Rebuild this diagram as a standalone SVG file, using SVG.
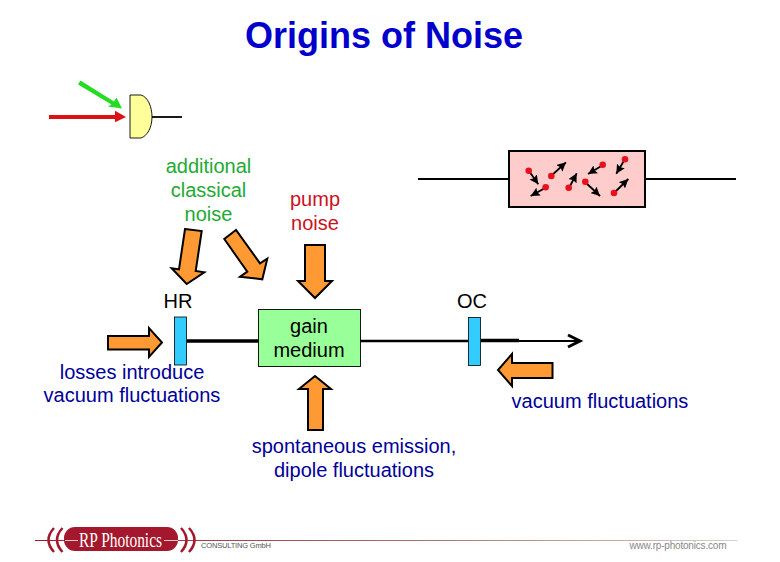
<svg xmlns="http://www.w3.org/2000/svg" width="780" height="562" viewBox="0 0 780 562">
<style>
text{font-family:"Liberation Sans",Arial,sans-serif;font-size:20px;text-anchor:middle}
.b{fill:#000099}.g{fill:#22aa33}.k{fill:#000}.r{fill:#cc1122}
.o{fill:#ff9933;stroke:#000;stroke-width:2}
.m{fill:#33ccff;stroke:#000;stroke-width:.8}
.d{fill:#e8101c}
.a{stroke:#000;stroke-width:1.8;fill:none;marker-end:url(#ah)}
</style>
<defs>
<marker id="ah" markerUnits="userSpaceOnUse" markerWidth="10" markerHeight="9" refX="9" refY="4.500" orient="auto"><path d="M0 0L9 4.500L0 9L1.500 4.500Z" fill="#000"/></marker>
<linearGradient id="fade" gradientUnits="userSpaceOnUse" x1="35" y1="0" x2="737" y2="0"><stop offset="0" stop-color="#a3182c"/><stop offset=".55" stop-color="#a8706f"/><stop offset="1" stop-color="#d8d0c8"/></linearGradient>
</defs>
<rect width="780" height="562" fill="#fff"/>
<text x="384" y="48" style="font-size:36px;font-weight:bold;fill:#0000cc">Origins of Noise</text>
<g id="connectors" fill="none" stroke="#000">
<path d="M152 117H182" stroke-width="1.8"/>
<path d="M418 179H508M645 179H736" stroke-width="2"/>
<path d="M187 341H259" stroke-width="3.500"/>
<path d="M360 341H468" stroke-width="2.500"/>
<path d="M481 340.500H519" stroke-width="3.500"/>
<path d="M519 341H579" stroke-width="2.200"/>
<path d="M568 335L580 341L568 347" stroke-width="3"/>
</g>
<g id="input-beams">
<path d="M78 84.500L80.500 80.500L114 101.500L116.500 97.500L122 108.500L108 106.500L111.500 104.500Z" fill="#22dd22"/>
<path d="M49 115H115V110.700L126 117L115 122.300V119H49Z" fill="#dd1111"/>
</g>
<g id="detector"><path d="M130 95H141C148 97 152 107 152 117C152 128 147 136 141 138H130Z" fill="#ffff99" stroke="#000" stroke-width=".9"/></g>
<g id="noise-box">
<rect x="509" y="151" width="136" height="56" fill="#ffcccc" stroke="#000" stroke-width="2"/>
<path class="a" d="M529 171L538.300 184.300"/><path class="a" d="M551 176L566 162.300"/><path class="a" d="M546 187.500L530.700 196"/><path class="a" d="M569 188L576.700 173.300"/><path class="a" d="M603 165L588 174"/><path class="a" d="M585 182L600 196"/><path class="a" d="M625 159L616.300 173.700"/><path class="a" d="M614 193L628.300 179"/>
<circle class="d" cx="528.700" cy="170.700" r="3.300"/><circle class="d" cx="551.300" cy="176" r="3.300"/><circle class="d" cx="545.700" cy="187.300" r="3.300"/><circle class="d" cx="568.700" cy="187.700" r="3.300"/><circle class="d" cx="602.700" cy="164.700" r="3.300"/><circle class="d" cx="585.300" cy="181.700" r="3.300"/><circle class="d" cx="625" cy="159.300" r="3.300"/><circle class="d" cx="614" cy="193" r="3.300"/>
</g>
<g id="additional-noise" class="g"><text x="208.500" y="173">additional</text><text x="208.500" y="197">classical</text><text x="208.500" y="221">noise</text></g>
<g id="pump-noise" class="r"><text x="315" y="206">pump</text><text x="315" y="230">noise</text></g>
<g id="arrow-add-1"><path class="o" d="M185 229L201.700 231L195.700 271L204.300 272.300L186.700 284L171.700 268.300L179 269.300Z"/></g>
<g id="arrow-add-2"><path class="o" d="M236 230L224.300 239L247.300 271.700L240 276.700L262.300 279.300L267.300 258.700L260 263.300Z"/></g>
<g id="arrow-pump"><path class="o" d="M305 245H325V281H332L315 298L298 281H305Z"/></g>
<g id="hr"><text x="178" y="308" class="k">HR</text><rect class="m" x="174.500" y="317" width="12" height="48"/></g>
<g id="oc"><text x="472" y="308" class="k">OC</text><rect class="m" x="468.500" y="317.500" width="12" height="48"/></g>
<g id="gain-medium"><rect x="258.500" y="309.500" width="102" height="57" fill="#99ff99" stroke="#000" stroke-width=".9"/><text x="309" y="333" class="k">gain</text><text x="309" y="357" class="k">medium</text></g>
<g id="arrow-hr"><path class="o" d="M108 336H149V328L162 342.500L149 357V349.500H108Z"/></g>
<g id="arrow-oc"><path class="o" d="M552.500 363H512V354L498 370L512 386V378H552.500Z"/></g>
<g id="arrow-spont"><path class="o" d="M308 430V389H299L315 376L331 389H323V430Z"/></g>
<g id="labels" class="b">
<text x="132" y="379">losses introduce</text><text x="132" y="402">vacuum fluctuations</text>
<text x="600" y="408">vacuum fluctuations</text>
<text x="354" y="453">spontaneous emission,</text><text x="354" y="477">dipole fluctuations</text>
</g>
<g id="logo">
<path d="M35 540.500H737" stroke="url(#fade)" stroke-width="1" fill="none"/>
<rect x="64" y="527" width="114" height="24" rx="11" fill="#a3182c"/>
<path d="M65 540.500H78M164 540.500H178" stroke="#e8c8c8" stroke-width="1" fill="none"/>
<path d="M54 528Q43 540 54 552M62.500 528Q51.500 540 62.500 552M181 528Q192 540 181 552M189 528Q200 540 189 552" fill="none" stroke="#a3182c" stroke-width="2.500"/>
<text x="120.500" y="547" style="font-family:'Liberation Serif',serif;font-size:20px;fill:#fff" textLength="83" lengthAdjust="spacingAndGlyphs">RP Photonics</text>
<text x="236" y="548" style="font-size:7.500px;fill:#555" textLength="70">CONSULTING GmbH</text>
<text x="678" y="549" style="font-size:10px;fill:#888" textLength="97">www.rp-photonics.com</text>
</g>
</svg>
